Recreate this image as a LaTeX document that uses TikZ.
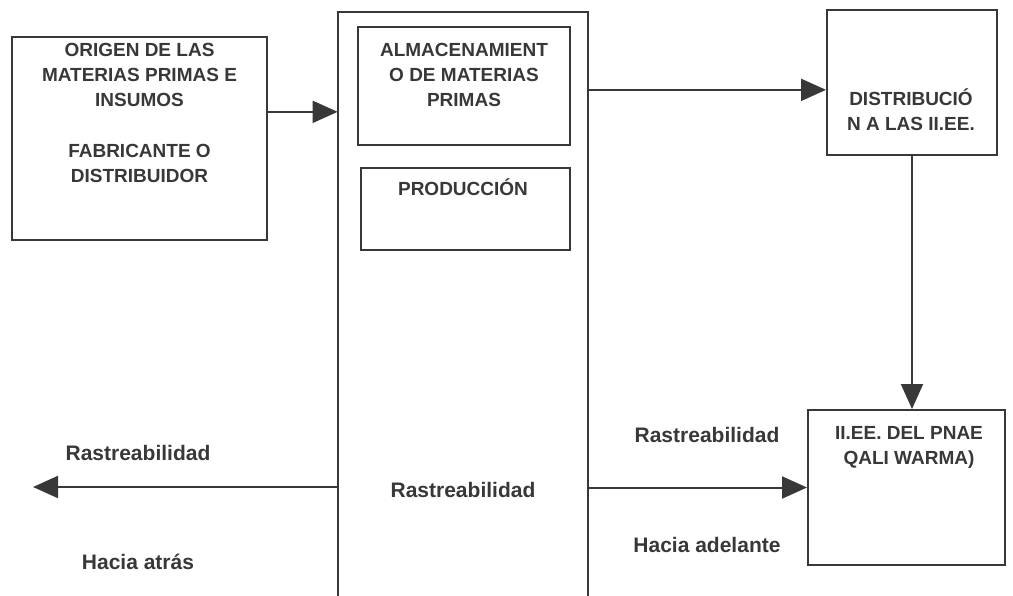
\documentclass[tikz,border=0pt]{standalone}
\usepackage{fontspec}
\setmainfont{Liberation Sans}
\usetikzlibrary{arrows.meta,calc}

\begin{document}
\begin{tikzpicture}[
        x=0.5pt, y=-0.5pt,
        every node/.style={text=black!78},
        box/.style={draw=black!78, line width=1pt, inner sep=0pt},
        boxtext/.style={anchor=north, inner sep=0pt, align=center,
            font=\bfseries\fontsize{9.5}{12.5}\selectfont},
        lbl/.style={inner sep=0pt, font=\bfseries\fontsize{10.5}{12}\selectfont},
        arr/.style={draw=black!78, line width=1pt, -{Triangle[length=12.5pt,width=11pt]}}
    ]
        \useasboundingbox (0,0) rectangle (1013,595);

        % boxes
        \node[box, minimum width=127.5pt, minimum height=101.5pt] (origin) at (139.5,138.5) {};
        \node[inner sep=0pt, minimum width=125pt, minimum height=294pt] (plant) at (463,306) {};
        \draw[black!78, line width=1pt] (plant.south west) |- (plant.north) -| (plant.south east);
        \node[box, minimum width=106pt, minimum height=59pt] (almacen) at (464,86) {};
        \node[box, minimum width=104.5pt, minimum height=41pt] (produc) at (465.5,209) {};
        \node[box, minimum width=85pt, minimum height=72.5pt] (distrib) at (912,82.5) {};
        \node[box, minimum width=98.5pt, minimum height=77.5pt] (ieep) at (906.5,487.5) {};

        % texts in the boxes
        \node[boxtext] (origintxt) at (139.5,43) {ORIGEN DE LAS\\ MATERIAS PRIMAS E\\ INSUMOS\\[13pt] FABRICANTE O\\ DISTRIBUIDOR};
        \node[boxtext] (almacentxt) at (464,43) {ALMACENAMIENT\\ O DE MATERIAS\\ PRIMAS};
        \node[boxtext] (productxt) at (463,178) {PRODUCCIÓN};
        \node[boxtext] (distribtxt) at (911,88) {DISTRIBUCIÓ\\ N A LAS II.EE.};
        \node[boxtext] (ieeptxt) at (909,426) {II.EE. DEL PNAE\\ QALI WARMA)};

        % labels
        \node[lbl] (backtop) at (138,453) {Rastreabilidad};
        \node[lbl] (backbot) at (138,562) {Hacia atrás};
        \node[lbl] (midlbl) at (463,490) {Rastreabilidad};
        \node[lbl] (fwdtop) at (707,435) {Rastreabilidad};
        \node[lbl] (fwdbot) at (707,545) {Hacia adelante};

        % arrows
        \coordinate (o1) at ($(origin.north east)!0.37!(origin.south east)$);
        \coordinate (d1) at ($(distrib.north west)!0.55!(distrib.south west)$);
        \coordinate (back) at (33,487);
        \draw[arr] (o1) -- (o1 -| plant.west);
        \draw[arr] (plant.east |- d1) -- (d1);
        \draw[arr] (distrib.south) -- (distrib.south |- ieep.north);
        \draw[arr] (plant.east |- ieep.west) -- (ieep.west);
        \draw[arr] (plant.west |- back) -- (back);
    \end{tikzpicture}
\end{document}
